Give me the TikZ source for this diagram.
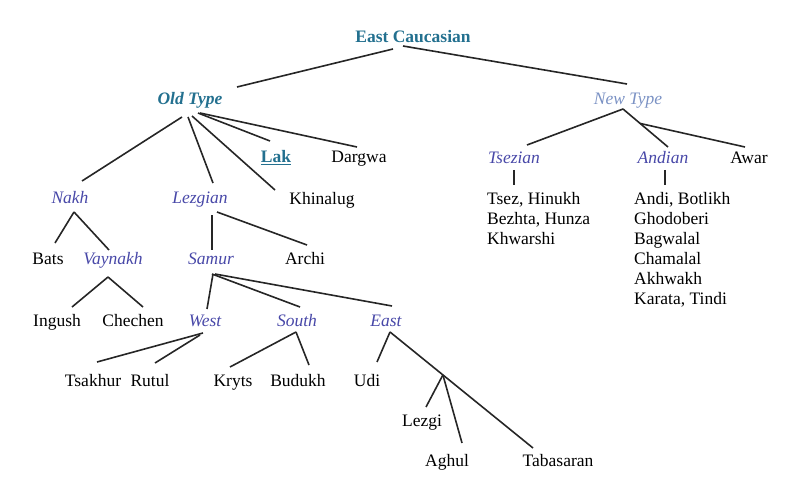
\documentclass[tikz,border=0pt]{standalone}
\usepackage{fontspec}
\setmainfont{Liberation Serif}
\usetikzlibrary{calc}
\definecolor{teal1}{HTML}{23708F}
\definecolor{lightb}{HTML}{7B92C4}
\definecolor{purp}{HTML}{4848A8}
\tikzset{
  lbl/.style={inner sep=0pt, text height=12.5pt, text depth=3.5pt, font=\fontsize{17.5}{20}\selectfont},
  top/.style={lbl, text=teal1, font=\fontsize{17.5}{20}\selectfont\bfseries},
  topit/.style={lbl, text=teal1, font=\fontsize{17.5}{20}\selectfont\bfseries\itshape},
  newt/.style={lbl, text=lightb, font=\fontsize{17.5}{20}\selectfont\itshape},
  grp/.style={lbl, text=purp, font=\fontsize{17.5}{20}\selectfont\itshape},
  lang/.style={lbl, text=black},
  lst/.style={inner sep=0pt, align=left, anchor=north west, font=\fontsize{17.5}{20}\selectfont},
  edge/.style={draw=black!85, line width=1.6pt}
}
\begin{document}
\begin{tikzpicture}[x=1pt,y=1pt]
\useasboundingbox (0,0) rectangle (800,-489);
% nodes (x, -(yc+1))
\node[top] (ec) at (413,-38) {East Caucasian};
\node[topit] (old) at (190,-100) {Old Type};
\node[newt] (new) at (628,-100) {New Type};
\node[top] (lak) at (276,-158) {\underline{Lak}};
\node[lang] (dargwa) at (359,-158) {Dargwa};
\node[lang] (khinalug) at (322,-200) {Khinalug};
\node[grp] (nakh) at (70,-199) {Nakh};
\node[grp] (lezgian) at (200,-199) {Lezgian};
\node[lang] (bats) at (48,-260) {Bats};
\node[grp] (vaynakh) at (113,-260) {Vaynakh};
\node[grp] (samur) at (211,-260) {Samur};
\node[lang] (archi) at (305,-260) {Archi};
\node[lang] (ingush) at (57,-322) {Ingush};
\node[lang] (chechen) at (133,-322) {Chechen};
\node[grp] (west) at (205,-322) {West};
\node[grp] (south) at (297,-322) {South};
\node[grp] (east) at (386,-322) {East};
\node[lang] (tsakhur) at (93,-382) {Tsakhur};
\node[lang] (rutul) at (150,-382) {Rutul};
\node[lang] (kryts) at (233,-382) {Kryts};
\node[lang] (budukh) at (298,-382) {Budukh};
\node[lang] (udi) at (367,-382) {Udi};
\node[lang] (lezgi) at (422,-422) {Lezgi};
\node[lang] (aghul) at (447,-462) {Aghul};
\node[lang] (tabasaran) at (558,-462) {Tabasaran};
\node[grp] (tsezian) at (514,-159) {Tsezian};
\node[grp] (andian) at (663,-159) {Andian};
\node[lang] (awar) at (749,-159) {Awar};
\node[lst] (tsezlist) at (487,-192.5) {Tsez, Hinukh\\Bezhta, Hunza\\Khwarshi};
\node[lst] (andilist) at (634,-192.5) {Andi, Botlikh\\Ghodoberi\\Bagwalal\\Chamalal\\Akhwakh\\Karata, Tindi};
% connectors
\draw[edge] ([shift={(-20,-11)}]ec.center) -- ([shift={(47,13)}]old.center);
\draw[edge] ([shift={(-10,-8)}]ec.center) -- ([shift={(-1,16)}]new.center);
\draw[edge] ([shift={(-8,-17)}]old.center) -- ([shift={(12,18)}]nakh.center);
\draw[edge] ([shift={(-2,-17)}]old.center) -- ([shift={(13,16)}]lezgian.center);
\draw[edge] ([shift={(2,-16)}]old.center) -- ([shift={(-47,10)}]khinalug.center);
\draw[edge] ([shift={(8,-13)}]old.center) -- ([shift={(-6,17)}]lak.center);
\draw[edge] ([shift={(10,-13)}]old.center) -- ([shift={(-2,11)}]dargwa.center);
\draw[edge] ([shift={(4,-13)}]nakh.center) -- ([shift={(7,17)}]bats.center);
\draw[edge] ([shift={(4,-13)}]nakh.center) -- ([shift={(-4,10)}]vaynakh.center);
\draw[edge] ([shift={(-5,-17)}]vaynakh.center) -- ([shift={(15,15)}]ingush.center);
\draw[edge] ([shift={(-5,-17)}]vaynakh.center) -- ([shift={(10,15)}]chechen.center);
\draw[edge] ([shift={(12,-16)}]lezgian.center) -- ([shift={(1,10)}]samur.center);
\draw[edge] ([shift={(17,-13)}]lezgian.center) -- ([shift={(2,15)}]archi.center);
\draw[edge] ([shift={(2,-14)}]samur.center) -- ([shift={(2,13)}]west.center);
\draw[edge] ([shift={(1,-14)}]samur.center) -- ([shift={(3,15)}]south.center);
\draw[edge] ([shift={(4,-14)}]samur.center) -- ([shift={(6,16)}]east.center);
\draw[edge] ([shift={(-2,-11)}]west.center) -- ([shift={(4,20)}]tsakhur.center);
\draw[edge] ([shift={(-5,-13)}]west.center) -- ([shift={(5,19)}]rutul.center);
\draw[edge] ([shift={(-1,-10)}]south.center) -- ([shift={(-3,15)}]kryts.center);
\draw[edge] ([shift={(-1,-10)}]south.center) -- ([shift={(11,17)}]budukh.center);
\draw[edge] ([shift={(4,-10)}]east.center) -- ([shift={(10,20)}]udi.center);
\coordinate (eastS) at ([shift={(4,-10)}]east.center);
\coordinate (tabN) at ([shift={(-25,14)}]tabasaran.center);
\draw[edge] (eastS) -- (tabN);
\coordinate (eb) at ($(eastS)!0.37!(tabN)$);
\draw[edge] (eb) -- ([shift={(4,15)}]lezgi.center);
\draw[edge] (eb) -- ([shift={(15,19)}]aghul.center);
\coordinate (newS) at ([shift={(-5,-9)}]new.center);
\coordinate (andN) at ([shift={(5,12)}]andian.center);
\draw[edge] (newS) -- ([shift={(13,14)}]tsezian.center);
\draw[edge] (newS) -- (andN);
\coordinate (nb) at ($(newS)!0.38!(andN)$);
\draw[edge] (nb) -- ([shift={(-4,12)}]awar.center);
\draw[edge] ([shift={(0,-11)}]tsezian.center) -- ([shift={(27,7)}]tsezlist.north west);
\draw[edge] ([shift={(2,-11)}]andian.center) -- ([shift={(31,7)}]andilist.north west);
\end{tikzpicture}
\end{document}
